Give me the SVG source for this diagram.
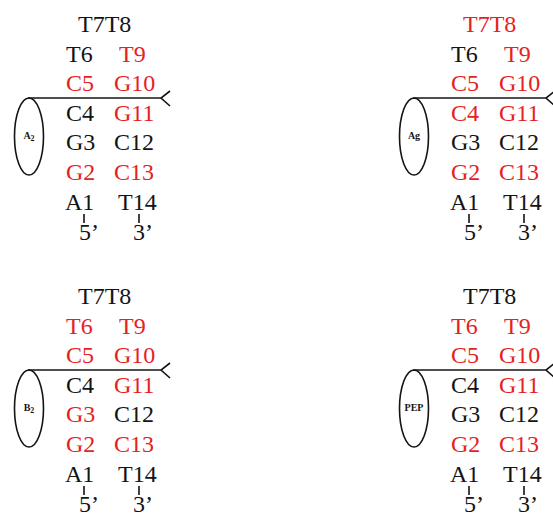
<svg xmlns="http://www.w3.org/2000/svg" width="553" height="517" viewBox="0 0 553 517" font-family="Liberation Serif, serif" font-size="24">
  <style>
    .k { fill: #141414; }
    .r { fill: #e5221e; }
    .lbl { font-size: 10px; font-weight: bold; fill: #141414; text-anchor: middle; }
    .sub { font-size: 8px; }
    .ln { stroke: #141414; stroke-width: 1.6; fill: none; }
  </style>
  <defs>
    <!-- ellipse, strand line ending in an open fork, and the two end ticks -->
    <g id="strand">
      <ellipse class="ln" cx="29" cy="136.5" rx="14.5" ry="38.5"/>
      <path class="ln" d="M28 98 H161 M170 91 L161 98 L170 106"/>
      <path class="ln" d="M84 214 V223 M139 214 V223"/>
    </g>
  </defs>

  <!-- panel A2 -->
  <g id="panel-a2">
    <use href="#strand"/>
    <text class="lbl" x="29" y="139">A<tspan class="sub" dy="2">2</tspan></text>
    <text class="k" x="78" y="32">T7T8</text>
    <text class="k" x="66" y="62">T6</text><text class="r" x="119" y="62">T9</text>
    <text class="r" x="66" y="91">C5</text><text class="r" x="114" y="91">G10</text>
    <text class="k" x="66" y="121">C4</text><text class="r" x="114" y="121">G11</text>
    <text class="k" x="66" y="150">G3</text><text class="k" x="114" y="150">C12</text>
    <text class="r" x="66" y="180">G2</text><text class="r" x="114" y="180">C13</text>
    <text class="k" x="65" y="210">A1</text><text class="k" x="118" y="210">T14</text>
    <text class="k" x="79" y="240">5’</text><text class="k" x="133" y="240">3’</text>
  </g>

  <!-- panel Ag -->
  <g id="panel-ag" transform="translate(385,0)">
    <use href="#strand"/>
    <text class="lbl" x="29" y="139">Ag</text>
    <text class="r" x="78" y="32">T7T8</text>
    <text class="k" x="66" y="62">T6</text><text class="r" x="119" y="62">T9</text>
    <text class="r" x="66" y="91">C5</text><text class="r" x="114" y="91">G10</text>
    <text class="r" x="66" y="121">C4</text><text class="r" x="114" y="121">G11</text>
    <text class="k" x="66" y="150">G3</text><text class="k" x="114" y="150">C12</text>
    <text class="r" x="66" y="180">G2</text><text class="r" x="114" y="180">C13</text>
    <text class="k" x="65" y="210">A1</text><text class="k" x="118" y="210">T14</text>
    <text class="k" x="79" y="240">5’</text><text class="k" x="133" y="240">3’</text>
  </g>

  <!-- panel B2 -->
  <g id="panel-b2" transform="translate(0,272)">
    <use href="#strand"/>
    <text class="lbl" x="29" y="139">B<tspan class="sub" dy="2">2</tspan></text>
    <text class="k" x="78" y="32">T7T8</text>
    <text class="r" x="66" y="62">T6</text><text class="r" x="119" y="62">T9</text>
    <text class="r" x="66" y="91">C5</text><text class="r" x="114" y="91">G10</text>
    <text class="k" x="66" y="121">C4</text><text class="r" x="114" y="121">G11</text>
    <text class="r" x="66" y="150">G3</text><text class="k" x="114" y="150">C12</text>
    <text class="r" x="66" y="180">G2</text><text class="r" x="114" y="180">C13</text>
    <text class="k" x="65" y="210">A1</text><text class="k" x="118" y="210">T14</text>
    <text class="k" x="79" y="240">5’</text><text class="k" x="133" y="240">3’</text>
  </g>

  <!-- panel PEP -->
  <g id="panel-pep" transform="translate(385,272)">
    <use href="#strand"/>
    <text class="lbl" x="29" y="139">PEP</text>
    <text class="k" x="78" y="32">T7T8</text>
    <text class="r" x="66" y="62">T6</text><text class="r" x="119" y="62">T9</text>
    <text class="r" x="66" y="91">C5</text><text class="r" x="114" y="91">G10</text>
    <text class="k" x="66" y="121">C4</text><text class="r" x="114" y="121">G11</text>
    <text class="k" x="66" y="150">G3</text><text class="k" x="114" y="150">C12</text>
    <text class="r" x="66" y="180">G2</text><text class="r" x="114" y="180">C13</text>
    <text class="k" x="65" y="210">A1</text><text class="k" x="118" y="210">T14</text>
    <text class="k" x="79" y="240">5’</text><text class="k" x="133" y="240">3’</text>
  </g>
</svg>
